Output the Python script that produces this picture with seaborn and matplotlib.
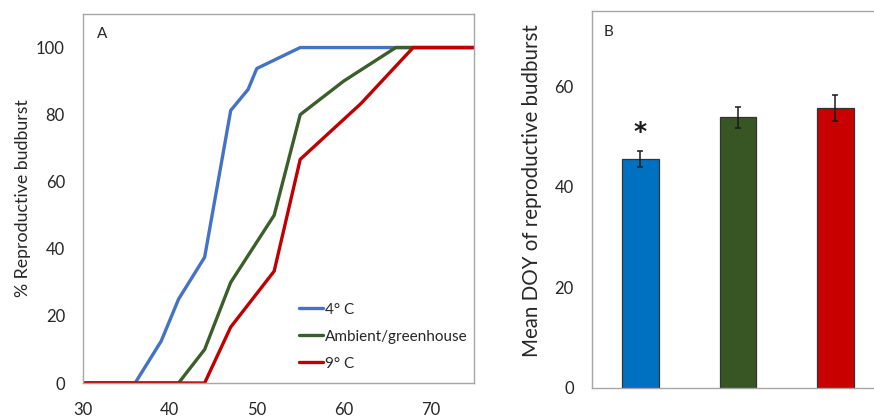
import numpy as np
import pandas as pd
import matplotlib
matplotlib.use("Agg")
import matplotlib.pyplot as plt
import seaborn as sns

# ---- Data ----
treatments = ["4° C", "Ambient/greenhouse", "9° C"]
doy_4c = [30, 36, 39, 41, 44, 47, 49, 50, 55, 75]
pct_4c = [0, 0, 12.5, 25, 37.5, 81.25, 87.5, 93.75, 100, 100]
doy_amb = [30, 41, 44, 47, 52, 55, 60, 66, 75]
pct_amb = [0, 0, 10, 30, 50, 80, 90, 100, 100]
doy_9c = [30, 44, 47, 52, 55, 62, 68, 75]
pct_9c = [0, 0, 16.67, 33.33, 66.67, 83.33, 100, 100]

mean_doy = [45.5, 53.8, 55.6]
se_doy = [1.5, 2.1, 2.6]

line_colors = ["#4472C4", "#3B5E2B", "#C00000"]
bar_colors = ["#0070C0", "#375623", "#C80000"]

sns.set_theme(style="white")
plt.rcParams["font.family"] = ["Lato", "DejaVu Sans"]
text_color = "#262626"
spine_color = "#A6A6A6"

fig = plt.figure(figsize=(8.74, 4.17), dpi=100)
axA = fig.add_axes([83 / 874, 34 / 417, 391 / 874, 369 / 417])
axB = fig.add_axes([591.7 / 874, 29.3 / 417, 292.3 / 874, 377 / 417])

# ---- Panel A ----
dfA = pd.concat([
    pd.DataFrame({"doy": doy_4c, "pct": pct_4c, "treatment": treatments[0]}),
    pd.DataFrame({"doy": doy_amb, "pct": pct_amb, "treatment": treatments[1]}),
    pd.DataFrame({"doy": doy_9c, "pct": pct_9c, "treatment": treatments[2]}),
], ignore_index=True)

sns.lineplot(data=dfA, x="doy", y="pct", hue="treatment", hue_order=treatments,
             palette=line_colors, sort=False, estimator=None, linewidth=2.4,
             ax=axA)
axA.set_xlim(30, 75)
axA.set_ylim(0, 110)
axA.set_xticks([30, 40, 50, 60, 70])
axA.set_yticks([0, 20, 40, 60, 80, 100])
axA.set_xlabel("")
axA.set_ylabel("% Reproductive budburst", fontsize=12.8, color=text_color)
axA.yaxis.set_label_coords(-0.133, 0.5)
axA.tick_params(axis="x", length=0, pad=14, labelsize=12, labelcolor=text_color)
axA.tick_params(axis="y", length=0, pad=13, labelsize=12, labelcolor=text_color)
for s in axA.spines.values():
    s.set_color(spine_color)
    s.set_linewidth(1.0)
axA.text(0.048, 0.945, "A", transform=axA.transAxes, ha="center", va="center",
         fontsize=11, color=text_color)
leg = axA.legend(loc="lower left", bbox_to_anchor=(0.52, 0.0), frameon=False,
                 fontsize=11, handlelength=1.6, handletextpad=0.1,
                 labelspacing=0.85, borderaxespad=0.4)
for t in leg.get_texts():
    t.set_color(text_color)

# ---- Panel B ----
dfB = pd.DataFrame({"treatment": treatments, "mean": mean_doy, "se": se_doy})
sns.barplot(data=dfB, x="treatment", y="mean", hue="treatment",
            palette=bar_colors, order=treatments, hue_order=treatments,
            width=0.376, errorbar=None, legend=False, edgecolor="#333333",
            linewidth=0.9, saturation=1, ax=axB)
axB.errorbar(x=np.arange(len(treatments)), y=dfB["mean"], yerr=dfB["se"],
             fmt="none", ecolor="#1a1a1a", elinewidth=1.1, capsize=2.5,
             capthick=1.1)
axB.text(0, 49.4, "*", ha="center", va="baseline", fontsize=18,
         fontweight="bold", color="#1a1a1a", family="DejaVu Sans")
axB.set_xlim(-0.5, 2.5)
axB.set_ylim(0, 75)
axB.set_yticks([0, 20, 40, 60])
axB.set_xticks([])
axB.set_xlabel("")
axB.set_ylabel("Mean DOY of reproductive budburst", fontsize=14.8,
               color=text_color)
axB.yaxis.set_label_coords(-0.17, 0.524)
axB.tick_params(axis="y", length=0, pad=13, labelsize=12, labelcolor=text_color)
for s in axB.spines.values():
    s.set_color(spine_color)
    s.set_linewidth(1.0)
axB.text(0.057, 0.943, "B", transform=axB.transAxes, ha="center", va="center",
         fontsize=11, color=text_color)

fig.savefig("out.png", dpi=100)
